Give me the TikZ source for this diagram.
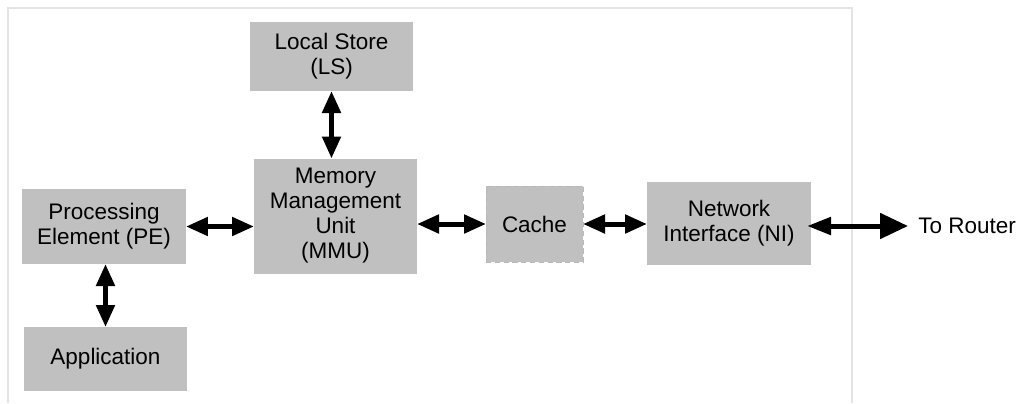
\documentclass[tikz,border=0pt]{standalone}
\usepackage{fontspec}
\setmainfont{Liberation Sans}
\usepackage{tikz}
\usetikzlibrary{positioning,calc,arrows.meta}

\definecolor{boxgray}{HTML}{C0C0C0}
\definecolor{framegray}{HTML}{E4E4E4}

\begin{document}
\begin{tikzpicture}[x=0.02cm,y=-0.02cm,
		blk/.style={fill=boxgray, draw=none, inner sep=0pt, outer sep=0pt, align=center,
			font=\fontsize{12.8}{14.2}\selectfont},
		dblk/.style={blk, draw=gray!55, densely dashed, line width=0.4pt},
		biarrow/.style={line width=0.1cm, {Triangle[length=0.44cm,width=0.36cm]}-{Triangle[length=0.44cm,width=0.36cm]}}
	]
			\useasboundingbox (0,0) rectangle (1023,403);
			\draw[framegray, line width=0.6pt] (8,403) -- (8,8) -- (852,8) -- (852,403);
			
			\node[blk, minimum width=163*0.02cm, minimum height=69*0.02cm] (ls) at (331.5,56.5) {Local Store\\(LS)};
			\node[blk, minimum width=163*0.02cm, minimum height=115*0.02cm] (mmu) at (335.5,216) {Memory\\Management\\Unit\\(MMU)};
			\node[blk, minimum width=164*0.02cm, minimum height=75*0.02cm] (pe) at (104,226.5) {Processing\\Element (PE)};
			\node[blk, minimum width=163*0.02cm, minimum height=64*0.02cm] (app) at (105.5,359) {Application};
			\node[dblk, minimum width=97*0.02cm, minimum height=76*0.02cm] (cache) at (534.5,224) {Cache};
			\node[blk, minimum width=164*0.02cm, minimum height=83*0.02cm] (ni) at (729,223.5) {Network\\Interface (NI)};
			\node[anchor=west, inner sep=0pt, font=\fontsize{12.8}{14.2}\selectfont] (router) at (918,226) {To Router};
			
			\draw[biarrow] (ls.south) -- (ls.south |- mmu.north);
			\draw[biarrow] (app.north) -- (app.north |- pe.south);
			\draw[biarrow] (pe.east) -- (pe.east -| mmu.west);
			\draw[biarrow] (cache.west -| mmu.east) -- (cache.west);
			\draw[biarrow] (cache.east) -- (cache.east -| ni.west);
			\draw[line width=0.1cm, {Triangle[length=0.48cm,width=0.34cm]}-{Triangle[length=0.56cm,width=0.5cm]}]
				($(ni.east |- router)+(-4,0)$) -- ($(router.west)+(-10,0)$);
		\end{tikzpicture}
\end{document}
